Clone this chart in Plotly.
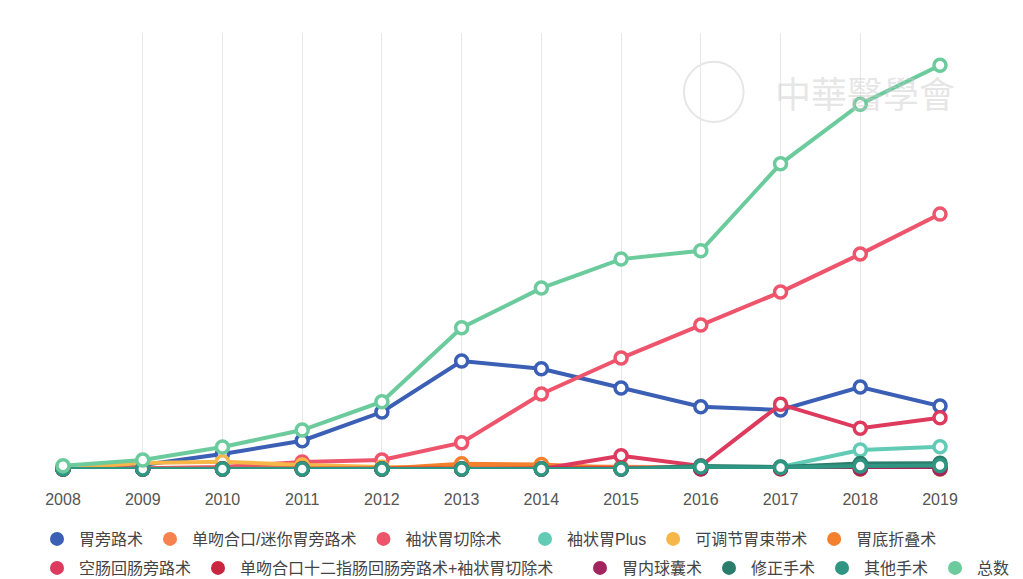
import plotly.graph_objects as go

years = [str(y) for y in range(2008, 2020)]

# 各术式例数
rygb = [40, 116, 435, 821, 1653, 3132, 2909, 2349, 1807, 1711, 2378, 1827]
oagb = [0, 10, 30, 40, 20, 90, 80, 60, 40, 30, 40, 50]
sleeve = [10, 20, 60, 203, 261, 763, 2175, 3219, 4176, 5133, 6235, 7395]
sleeve_plus = [0, 0, 0, 0, 0, 0, 0, 20, 40, 60, 551, 647]
band = [20, 174, 212, 116, 58, 30, 20, 10, 5, 5, 0, 0]
fundo = [0, 0, 10, 20, 10, 150, 130, 20, 10, 5, 5, 5]
jib = [0, 0, 0, 0, 0, 0, 0, 386, 87, 1876, 1180, 1488]
sadis = [0, 0, 0, 0, 0, 0, 0, 0, 10, 20, 30, 40]
balloon = [0, 0, 0, 0, 0, 0, 0, 0, 5, 5, 5, 5]
revision = [0, 0, 0, 0, 0, 0, 0, 0, 87, 58, 160, 170]
others = [0, 0, 0, 0, 0, 0, 0, 0, 60, 40, 90, 100]
total = [96, 261, 638, 1131, 1952, 4098, 5249, 6090, 6331, 8854, 10585, 11716]

names = ["胃旁路术", "单吻合口/迷你胃旁路术", "袖状胃切除术", "袖状胃Plus", "可调节胃束带术", "胃底折叠术",
         "空肠回肠旁路术", "单吻合口十二指肠回肠旁路术+袖状胃切除术", "胃内球囊术", "修正手术", "其他手术", "总数"]
series = [rygb, oagb, sleeve, sleeve_plus, band, fundo, jib, sadis, balloon, revision, others, total]
colors = ["#3a5fb5", "#f7824e", "#ee546c", "#62cbb6", "#f6b748", "#f47f2c",
          "#de3a5d", "#c9253e", "#a2255f", "#2a7d6b", "#2e9682", "#6ccb9c"]
# which legend block each entry sits in (two rows, split so nothing wraps)
legend_of = ["legend", "legend", "legend", "legend2", "legend2", "legend2",
             "legend3", "legend3", "legend4", "legend4", "legend4", "legend4"]

fig = go.Figure()
for n, s, c in zip(names, series, colors):
    fig.add_trace(go.Scatter(x=years, y=s, name=n, mode="lines+markers", showlegend=False,
                             line=dict(color=c, width=4),
                             marker=dict(size=12, color="white", line=dict(color=c, width=3.5)),
                             cliponaxis=False))
# legend entries: filled circles only
for n, c, lg in zip(names, colors, legend_of):
    fig.add_trace(go.Scatter(x=[None], y=[None], name=n, mode="markers",
                             marker=dict(size=14, color=c), legend=lg))

leg = dict(orientation="h", xref="container", yref="container", yanchor="middle",
           itemwidth=34, font=dict(size=16, color="#444"), bgcolor="rgba(0,0,0,0)")
row1 = 1 - 531 / 579
row2 = 1 - 560 / 579

fig.update_layout(
    width=1023, height=579,
    margin=dict(l=55, r=91, t=25, b=118),
    plot_bgcolor="white", paper_bgcolor="white",
    font=dict(family="Liberation Sans, Noto Sans CJK SC, sans-serif", color="#555"),
    legend=dict(leg, x=27 / 1023, y=row1),
    legend2=dict(leg, x=515 / 1023, y=row1),
    legend3=dict(leg, x=27 / 1023, y=row2),
    legend4=dict(leg, x=570 / 1023, y=row2),
    xaxis=dict(range=[0, 11], showgrid=True, gridcolor="#e8e8e8", gridwidth=1,
               showline=False, zeroline=False, ticks="", ticklabelstandoff=19,
               tickfont=dict(size=16, color="#555")),
    yaxis=dict(range=[0, 12650], visible=False),
    annotations=[dict(text="中華醫學會", xref="paper", yref="paper", x=0.914, y=0.865,
                      xanchor="center", yanchor="middle", showarrow=False,
                      font=dict(size=36, color="rgba(200,200,200,0.45)",
                                family="Noto Sans CJK TC"))],
    shapes=[dict(type="circle", xref="paper", yref="paper", x0=0.708, x1=0.776, y0=0.796, y1=0.934,
                 line=dict(color="rgba(205,205,205,0.5)", width=2), layer="below")],
)

fig.write_html("out.html")
